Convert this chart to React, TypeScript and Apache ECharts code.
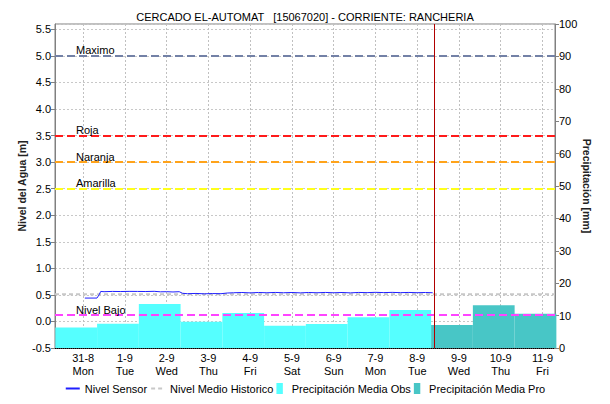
import React, { useEffect, useRef } from "react";
import * as echarts from "echarts";

const dayLabels = ["31-8", "1-9", "2-9", "3-9", "4-9", "5-9", "6-9", "7-9", "8-9", "9-9", "10-9", "11-9"];
const weekdays = ["Mon", "Tue", "Wed", "Thu", "Fri", "Sat", "Sun", "Mon", "Tue", "Wed", "Thu", "Fri"];
const tickDays = [0, 1, 2, 3, 4, 5, 6, 7, 8, 9, 10, 11];

// precipitation blocks: [start day, end day, mm]
const precipObs = [
  [-0.667, 0.333, 6.3],
  [0.333, 1.333, 7.5],
  [1.333, 2.333, 13.6],
  [2.333, 3.333, 8.1],
  [3.333, 4.333, 10.8],
  [4.333, 5.333, 6.9],
  [5.333, 6.333, 7.4],
  [6.333, 7.333, 9.5],
  [7.333, 8.333, 11.7],
];
const precipPro = [
  [8.333, 9.333, 7.1],
  [9.333, 10.333, 13.2],
  [10.333, 11.333, 10.6],
];

const sensor = [
  [0.04, 0.44], [0.33, 0.44], [0.38, 0.5], [0.42, 0.565], [0.5, 0.56], [0.7, 0.565], [0.9, 0.563],
  [1.1, 0.566], [1.3, 0.565], [1.5, 0.563], [1.7, 0.567], [1.85, 0.558], [2.0, 0.56], [2.15, 0.555],
  [2.3, 0.56], [2.38, 0.53], [2.5, 0.522], [2.7, 0.527], [2.9, 0.52], [3.1, 0.525], [3.3, 0.522],
  [3.45, 0.535], [3.6, 0.54], [3.8, 0.545], [4.0, 0.538], [4.2, 0.545], [4.4, 0.54], [4.6, 0.546],
  [4.8, 0.54], [5.0, 0.545], [5.2, 0.538], [5.4, 0.545], [5.6, 0.54], [5.8, 0.546], [6.0, 0.54],
  [6.2, 0.545], [6.4, 0.538], [6.6, 0.546], [6.8, 0.542], [7.0, 0.548], [7.2, 0.543], [7.4, 0.547],
  [7.6, 0.542], [7.8, 0.546], [8.0, 0.541], [8.2, 0.545], [8.37, 0.54],
];

const X_MIN = -0.675;
const X_MAX = 11.3;
const historico = [[X_MIN, 0.51], [X_MAX, 0.51]];

const thresholds = [
  { name: "Maximo", value: 5.0, color: "#7381a6" },
  { name: "Roja", value: 3.5, color: "#ff1a1a" },
  { name: "Naranja", value: 3.0, color: "#ffa31a" },
  { name: "Amarilla", value: 2.5, color: "#ffff1a" },
  { name: "Nivel Bajo", value: 0.12, color: "#ff44ff" },
];
const forecastStart = 8.42;

const FONT = "'Liberation Sans', Arial, sans-serif";
const HIDDEN = { color: "rgba(0,0,0,0)", borderColor: "rgba(0,0,0,0)", borderWidth: 0 };

export default function App() {
  const ref = useRef<HTMLDivElement>(null);
  useEffect(() => {
    if (!ref.current) return;
    const chart = echarts.init(ref.current, null, { renderer: "svg" });
    const blockRender = (color: string) => (params: any, api: any) => {
      const p0 = api.coord([api.value(0), api.value(2)]);
      const p1 = api.coord([api.value(1), 0]);
      return {
        type: "rect",
        shape: { x: p0[0], y: p0[1], width: p1[0] - p0[0], height: p1[1] - p0[1] },
        style: { fill: color },
      };
    };
    chart.setOption({
      animation: false,
      textStyle: { fontFamily: FONT },
      title: {
        text: "CERCADO EL-AUTOMAT   [15067020] - CORRIENTE: RANCHERIA",
        left: "center",
        top: 6,
        textStyle: { fontSize: 11, fontWeight: "normal", color: "#000", fontFamily: FONT },
      },
      legend: {
        bottom: 5,
        left: "center",
        itemWidth: 14,
        itemHeight: 11,
        itemGap: 3,
        textStyle: { fontSize: 11, color: "#000", fontFamily: FONT },
        data: [
          { name: "Nivel Sensor", itemStyle: HIDDEN },
          { name: "Nivel Medio Historico", itemStyle: HIDDEN },
          { name: "Precipitación Media Obs", icon: "path://M0 0h7v12H0z" },
          { name: "Precipitación Media Pro", icon: "path://M0 0h7v12H0z" },
        ],
      },
      grid: {
        left: 55,
        right: 55,
        top: 24,
        bottom: 56,
        show: true,
        borderColor: "#808080",
        borderWidth: 1,
      },
      xAxis: {
        type: "value",
        min: X_MIN,
        max: X_MAX,
        axisLine: { show: true, onZero: false, lineStyle: { color: "#000", type: [1, 1], width: 1 } },
        axisTick: { show: false, customValues: tickDays },
        axisLabel: {
          customValues: tickDays,
          formatter: (v: number) => `${dayLabels[Math.round(v)]}\n${weekdays[Math.round(v)]}`,
          color: "#000",
          fontSize: 11,
          lineHeight: 13,
          margin: 3,
          fontFamily: FONT,
        },
        splitLine: { show: true, lineStyle: { color: "#c0c0c0", type: [2, 2], width: 1 } },
      },
      yAxis: [
        {
          type: "value",
          min: -0.5,
          max: 5.6,
          interval: 0.5,
          name: "Nivel del Agua [m]",
          nameLocation: "middle",
          nameGap: 28,
          nameMoveOverlap: false,
          nameTextStyle: { fontSize: 10.5, fontWeight: "bold", color: "#222", fontFamily: FONT },
          axisLine: { show: true, onZero: false, lineStyle: { color: "#808080" } },
          axisTick: { show: true, length: 4, lineStyle: { color: "#808080" } },
          axisLabel: {
            showMaxLabel: false,
            formatter: (v: number) => v.toFixed(1),
            color: "#000",
            fontSize: 11,
            margin: 4,
            fontFamily: FONT,
          },
          splitLine: { show: true, lineStyle: { color: "#c8c8c8", type: [2, 2], width: 1 } },
        },
        {
          type: "value",
          min: 0,
          max: 100,
          interval: 10,
          name: "Precipitación [mm]",
          nameLocation: "middle",
          nameGap: 26,
          nameMoveOverlap: false,
          nameRotate: -90,
          nameTextStyle: { fontSize: 10.5, fontWeight: "bold", color: "#222", fontFamily: FONT },
          axisLine: { show: true, onZero: false, lineStyle: { color: "#808080" } },
          axisTick: { show: true, length: 4, lineStyle: { color: "#808080" } },
          axisLabel: { color: "#000", fontSize: 11, margin: 4, fontFamily: FONT },
          splitLine: { show: false },
        },
      ],
      series: [
        {
          name: "Precipitación Media Obs",
          type: "custom",
          yAxisIndex: 1,
          renderItem: blockRender("#55ffff"),
          itemStyle: { color: "#55ffff" },
          encode: { x: [0, 1], y: 2 },
          data: precipObs,
          z: 1,
        },
        {
          name: "Precipitación Media Pro",
          type: "custom",
          yAxisIndex: 1,
          renderItem: blockRender("#48c6c6"),
          itemStyle: { color: "#48c6c6" },
          encode: { x: [0, 1], y: 2 },
          data: precipPro,
          z: 1,
        },
        {
          name: "Nivel Medio Historico",
          type: "line",
          yAxisIndex: 0,
          symbol: "none",
          data: historico,
          itemStyle: { color: "#c8c8c8" },
          lineStyle: { color: "#c8c8c8", width: 2, type: [4, 3] },
          z: 3,
          markLine: {
            silent: true,
            symbol: ["none", "none"],
            animation: false,
            data: thresholds.map((t) => ({
              yAxis: t.value,
              lineStyle: { color: t.color, type: [8, 4], width: 2 },
              label: {
                show: true,
                formatter: t.name,
                position: "insideStartTop",
                distance: [21, 0],
                color: "#000",
                fontSize: 11,
                fontFamily: FONT,
              },
            })),
          },
        },
        {
          name: "Nivel Sensor",
          type: "line",
          yAxisIndex: 0,
          symbol: "none",
          data: sensor,
          itemStyle: { color: "#1f1fff" },
          lineStyle: { color: "#1f1fff", width: 1 },
          z: 4,
          markLine: {
            silent: true,
            symbol: ["none", "none"],
            animation: false,
            label: { show: false },
            data: [{ xAxis: forecastStart, lineStyle: { color: "#b00000", type: "solid", width: 1 } }],
          },
        },
      ],
    });
    return () => chart.dispose();
  }, []);
  return <div ref={ref} style={{ position: "absolute", left: 0, top: 0, width: 610, height: 404 }} />;
}
